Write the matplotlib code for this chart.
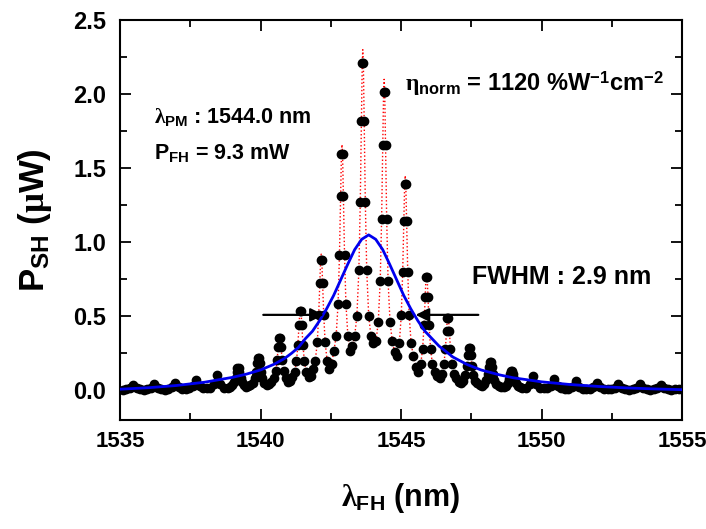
import numpy as np
import matplotlib
matplotlib.use('Agg')
import matplotlib.pyplot as plt
from matplotlib.ticker import MultipleLocator

wl = [
    1535.10,
    1535.22, 1535.35, 1535.47, 1535.59, 1535.72, 1535.85,
    1535.97, 1536.10, 1536.22, 1536.34, 1536.47, 1536.60,
    1536.72, 1536.85, 1536.97, 1537.09, 1537.22, 1537.35,
    1537.47, 1537.60, 1537.72, 1537.84, 1537.97, 1538.09,
    1538.21, 1538.33, 1538.45, 1538.57, 1538.70, 1538.83,
    1538.91, 1538.99, 1539.06, 1539.11, 1539.15, 1539.18, 1539.22, 1539.25, 1539.29, 1539.34, 1539.41, 1539.49, 1539.57,
    1539.64, 1539.72, 1539.79, 1539.84, 1539.88, 1539.91, 1539.95, 1539.98, 1540.02, 1540.07, 1540.14, 1540.22, 1540.30,
    1540.39, 1540.47, 1540.54, 1540.59, 1540.63, 1540.66, 1540.70, 1540.73, 1540.77, 1540.82, 1540.89, 1540.97, 1541.05,
    1541.13, 1541.21, 1541.28, 1541.33, 1541.37, 1541.40, 1541.44, 1541.47, 1541.51, 1541.56, 1541.63, 1541.71, 1541.79,
    1541.87, 1541.95, 1542.02, 1542.07, 1542.11, 1542.14, 1542.18, 1542.21, 1542.25, 1542.30, 1542.37, 1542.45, 1542.53,
    1542.61, 1542.69, 1542.76, 1542.81, 1542.85, 1542.88, 1542.92, 1542.95, 1542.99, 1543.04, 1543.11, 1543.19, 1543.27,
    1543.35, 1543.43, 1543.50, 1543.55, 1543.59, 1543.62, 1543.66, 1543.69, 1543.73, 1543.78, 1543.85, 1543.93, 1544.02,
    1544.11, 1544.19, 1544.26, 1544.31, 1544.35, 1544.38, 1544.42, 1544.45, 1544.49, 1544.54, 1544.61, 1544.69, 1544.77,
    1544.86, 1544.94, 1545.01, 1545.06, 1545.10, 1545.13, 1545.17, 1545.20, 1545.24, 1545.29, 1545.36, 1545.44, 1545.53,
    1545.62, 1545.70, 1545.77, 1545.82, 1545.86, 1545.89, 1545.93, 1545.96, 1546.00, 1546.05, 1546.12, 1546.20, 1546.29,
    1546.38, 1546.46, 1546.53, 1546.58, 1546.62, 1546.65, 1546.69, 1546.72, 1546.76, 1546.81, 1546.88, 1546.96, 1547.05,
    1547.14, 1547.22, 1547.29, 1547.34, 1547.38, 1547.41, 1547.45, 1547.48, 1547.52, 1547.57, 1547.64, 1547.72, 1547.80,
    1547.89, 1547.97, 1548.04, 1548.09, 1548.13, 1548.16, 1548.20, 1548.23, 1548.27, 1548.32, 1548.39, 1548.47, 1548.56,
    1548.65, 1548.73, 1548.80, 1548.85, 1548.89, 1548.92, 1548.96, 1548.99, 1549.03, 1549.08, 1549.15, 1549.23, 1549.32,
    1549.45, 1549.58, 1549.70, 1549.82, 1549.95, 1550.08,
    1550.20, 1550.33, 1550.45, 1550.57, 1550.70, 1550.83,
    1550.96, 1551.09, 1551.21, 1551.33, 1551.46, 1551.59,
    1551.72, 1551.85, 1551.97, 1552.09, 1552.22, 1552.35,
    1552.48, 1552.61, 1552.73, 1552.85, 1552.98, 1553.11,
    1553.24, 1553.37, 1553.49, 1553.61, 1553.74, 1553.87,
    1553.99, 1554.12, 1554.24, 1554.36, 1554.49, 1554.62,
    1554.75, 1554.88,
]
p = [
    0.005,
    0.007, 0.015, 0.036, 0.015, 0.007, 0.005,
    0.008, 0.018, 0.043, 0.018, 0.008, 0.006,
    0.010, 0.022, 0.053, 0.022, 0.010, 0.009,
    0.013, 0.030, 0.072, 0.030, 0.013, 0.013,
    0.019, 0.045, 0.107, 0.045, 0.019, 0.018,
    0.025, 0.034, 0.055, 0.086, 0.122, 0.149, 0.149, 0.122, 0.086, 0.055, 0.034, 0.025, 0.028,
    0.037, 0.050, 0.081, 0.127, 0.182, 0.221, 0.221, 0.182, 0.127, 0.081, 0.050, 0.037, 0.044,
    0.059, 0.081, 0.130, 0.204, 0.292, 0.355, 0.355, 0.292, 0.204, 0.130, 0.081, 0.059, 0.065,
    0.089, 0.123, 0.197, 0.309, 0.442, 0.538, 0.538, 0.442, 0.309, 0.197, 0.123, 0.089, 0.100,
    0.146, 0.201, 0.324, 0.508, 0.727, 0.883, 0.883, 0.727, 0.508, 0.324, 0.201, 0.146, 0.180,
    0.264, 0.364, 0.584, 0.916, 1.311, 1.594, 1.594, 1.311, 0.916, 0.584, 0.364, 0.264, 0.300,
    0.366, 0.504, 0.810, 1.270, 1.817, 2.208, 2.208, 1.817, 1.270, 0.810, 0.504, 0.366, 0.320,
    0.334, 0.460, 0.739, 1.159, 1.659, 2.016, 2.016, 1.659, 1.159, 0.739, 0.460, 0.334, 0.260,
    0.231, 0.318, 0.510, 0.800, 1.146, 1.392, 1.392, 1.146, 0.800, 0.510, 0.318, 0.231, 0.160,
    0.127, 0.175, 0.282, 0.442, 0.632, 0.768, 0.768, 0.632, 0.442, 0.282, 0.175, 0.127, 0.095,
    0.081, 0.112, 0.180, 0.282, 0.403, 0.490, 0.490, 0.403, 0.282, 0.180, 0.112, 0.081, 0.058,
    0.048, 0.066, 0.106, 0.166, 0.237, 0.288, 0.288, 0.237, 0.166, 0.106, 0.066, 0.048, 0.036,
    0.032, 0.044, 0.070, 0.110, 0.158, 0.192, 0.192, 0.158, 0.110, 0.070, 0.044, 0.032, 0.025,
    0.022, 0.031, 0.049, 0.077, 0.111, 0.134, 0.134, 0.111, 0.077, 0.049, 0.031, 0.022, 0.018,
    0.018, 0.042, 0.100, 0.042, 0.018, 0.013,
    0.014, 0.033, 0.078, 0.033, 0.014, 0.010,
    0.011, 0.026, 0.062, 0.026, 0.011, 0.008,
    0.009, 0.022, 0.052, 0.022, 0.009, 0.007,
    0.008, 0.019, 0.046, 0.019, 0.008, 0.006,
    0.007, 0.017, 0.040, 0.017, 0.007, 0.005,
    0.007, 0.015, 0.036, 0.015, 0.007, 0.005,
    0.007, 0.012,
]

# tops of the red dotted guide line (it overshoots the top dots)
tip_wl = [1539.20, 1539.93, 1540.68, 1541.42, 1542.16, 1542.90, 1543.64,
          1544.40, 1545.15, 1545.91, 1546.67, 1547.43, 1548.18, 1548.94]
tip_p = [0.155, 0.23, 0.37, 0.56, 0.92, 1.66, 2.30,
         2.10, 1.45, 0.80, 0.51, 0.30, 0.20, 0.14]

# fitted curve (blue)
fit_wl = [1535.0, 1536.0, 1537.0, 1538.0, 1539.0, 1539.5, 1540.0, 1540.5, 1540.85,
          1541.1, 1541.35, 1541.6, 1541.85, 1542.1, 1542.35, 1542.6, 1542.85, 1543.1,
          1543.35, 1543.6, 1543.85, 1544.1, 1544.35, 1544.6, 1544.85, 1545.1, 1545.35,
          1545.6, 1545.85, 1546.1, 1546.35, 1546.85, 1547.35, 1547.85, 1548.5, 1549.0,
          1550.0, 1551.0, 1552.0, 1553.0, 1554.0, 1555.0]
fit_p = [0.008, 0.018, 0.033, 0.055, 0.088, 0.110, 0.138, 0.178, 0.215,
         0.250, 0.290, 0.350, 0.400, 0.470, 0.550, 0.640, 0.745, 0.850,
         0.950, 1.020, 1.050, 1.020, 0.950, 0.850, 0.745, 0.640, 0.550,
         0.470, 0.400, 0.350, 0.300, 0.225, 0.175, 0.138, 0.105, 0.085,
         0.058, 0.040, 0.027, 0.017, 0.010, 0.005]

plt.rcParams['font.family'] = ['Liberation Sans', 'DejaVu Sans']
plt.rcParams['font.weight'] = 'bold'
plt.rcParams['mathtext.fontset'] = 'custom'
plt.rcParams['mathtext.rm'] = 'Liberation Sans:bold'
plt.rcParams['mathtext.bf'] = 'Liberation Sans:bold'
plt.rcParams['mathtext.it'] = 'Liberation Serif'

fig = plt.figure(figsize=(7.06, 5.29), dpi=100)
ax = fig.add_axes([0.170, 0.206, 0.796, 0.756])

# red dotted guide through dots and peak tips
line_wl = np.array(wl + tip_wl)
line_p = np.array(p + tip_p)
order = np.argsort(line_wl, kind='stable')
ax.plot(line_wl[order], line_p[order], color='red', ls=':', lw=1.0, zorder=1)
ax.plot(wl, p, 'o', color='black', ms=6, zorder=2)
ax.plot(fit_wl, fit_p, color='#0000ee', lw=2.0, zorder=3)

# FWHM arrows
arr = dict(arrowstyle='-|>', color='black', lw=1.6, mutation_scale=20)
ax.annotate('', xy=(1542.35, 0.51), xytext=(1540.0, 0.51), arrowprops=arr, zorder=4)
ax.annotate('', xy=(1545.42, 0.51), xytext=(1547.85, 0.51), arrowprops=arr, zorder=4)

ax.text(1536.2, 1.845, r'$\lambda_{\mathrm{PM}}$ : 1544.0 nm', fontsize=15.5,
        fontweight='bold', va='center', ha='left')
ax.text(1536.2, 1.60, r'P$_{\mathrm{FH}}$ = 9.3 mW', fontsize=15.5,
        fontweight='bold', va='center', ha='left')
ax.text(1545.14, 2.07, r'$\eta_{\mathrm{norm}}$ = 1120 %W$^{\mathrm{-1}}$cm$^{\mathrm{-2}}$',
        fontsize=17, fontweight='bold', va='center', ha='left')
ax.text(1547.52, 0.766, 'FWHM : 2.9 nm', fontsize=18, fontweight='bold',
        va='center', ha='left')

ax.set_xlim(1535, 1555)
ax.set_ylim(-0.2, 2.5)
ax.xaxis.set_major_locator(MultipleLocator(5))
ax.xaxis.set_minor_locator(MultipleLocator(2.5))
ax.yaxis.set_major_locator(MultipleLocator(0.5))
ax.yaxis.set_minor_locator(MultipleLocator(0.25))
ax.yaxis.set_major_formatter(matplotlib.ticker.FormatStrFormatter('%.1f'))
ax.tick_params(which='both', direction='in', top=True, right=True, width=1.3)
ax.tick_params(which='major', length=8, labelsize=16, pad=8)
ax.tick_params(axis='y', which='major', labelsize=17, pad=10)
ax.tick_params(which='minor', length=5)
for lab in ax.get_xticklabels() + ax.get_yticklabels():
    lab.set_fontweight('bold')
for s in ax.spines.values():
    s.set_linewidth(1.5)

ax.set_xlabel(r'$\lambda_{\mathrm{FH}}$ (nm)', fontsize=22, fontweight='bold', labelpad=21)
ax.set_ylabel(r'P$_{\mathrm{SH}}$ ($\mu$W)', fontsize=25, fontweight='bold', labelpad=14)

fig.savefig('out.png', dpi=100)
